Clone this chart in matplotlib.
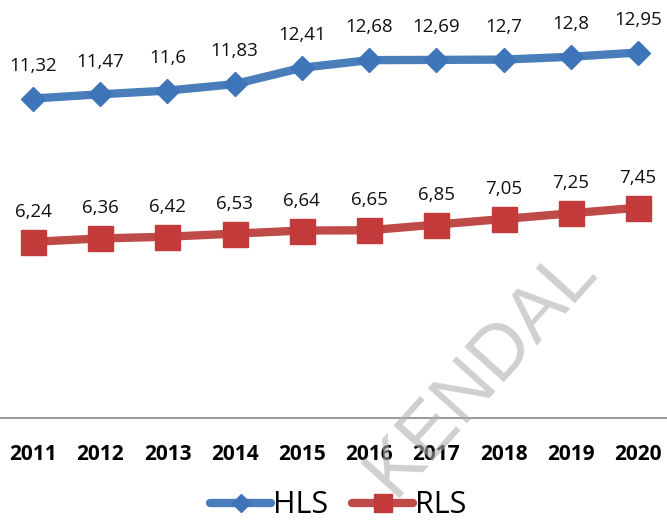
import matplotlib.pyplot as plt

years = ['2011', '2012', '2013', '2014', '2015', '2016', '2017', '2018', '2019', '2020']
hls = [11.32, 11.47, 11.6, 11.83, 12.41, 12.68, 12.69, 12.7, 12.8, 12.95]
rls = [6.24, 6.36, 6.42, 6.53, 6.64, 6.65, 6.85, 7.05, 7.25, 7.45]

plt.rcParams['font.family'] = ['Open Sans', 'DejaVu Sans']

fig = plt.figure(figsize=(6.67, 5.21), dpi=100)
ax = fig.add_axes([0, 0.198, 1, 0.758])

x = list(range(len(years)))
ax.plot(x, hls, color='#4A7EBB', lw=6, marker='D', markersize=12,
        markerfacecolor='#3E75B8', markeredgecolor='#3E75B8', label='HLS',
        solid_capstyle='round')
ax.plot(x, rls, color='#BE4B48', lw=6, marker='s', markersize=18,
        markerfacecolor='#C23A3A', markeredgecolor='#C23A3A', label='RLS',
        solid_capstyle='round')

def fmt(v):
    return ('%g' % v).replace('.', ',')

for xi, v in zip(x, hls):
    ax.annotate(fmt(v), (xi, v), xytext=(0, 20), textcoords='offset points',
                ha='center', va='baseline', fontsize=13.5, color='#111111')
for xi, v in zip(x, rls):
    ax.annotate(fmt(v), (xi, v), xytext=(0, 18), textcoords='offset points',
                ha='center', va='baseline', fontsize=13.5, color='#111111')

ax.set_xlim(-0.49, 9.43)
ax.set_ylim(0, 14)
ax.set_xticks(x)
ax.set_xticklabels(years, fontsize=15, fontweight='bold')
ax.set_yticks([])
ax.tick_params(axis='x', length=0, pad=19)
for s in ['top', 'right', 'left']:
    ax.spines[s].set_visible(False)
ax.spines['bottom'].set_color('#888888')
ax.spines['bottom'].set_linewidth(1.2)

fig.legend(loc='center', bbox_to_anchor=(0.507, 0.03), ncol=2, frameon=False,
           fontsize=22, handlelength=2.0, handletextpad=0.05, columnspacing=0.8,
           markerscale=0.75)

# watermark
fig.text(0.722, 0.288, 'KENDAL', fontsize=55, color='#B0B0B0', alpha=0.6,
         rotation=48, ha='center', va='center', family='Liberation Sans', zorder=10)

fig.savefig('out.png', dpi=100)
